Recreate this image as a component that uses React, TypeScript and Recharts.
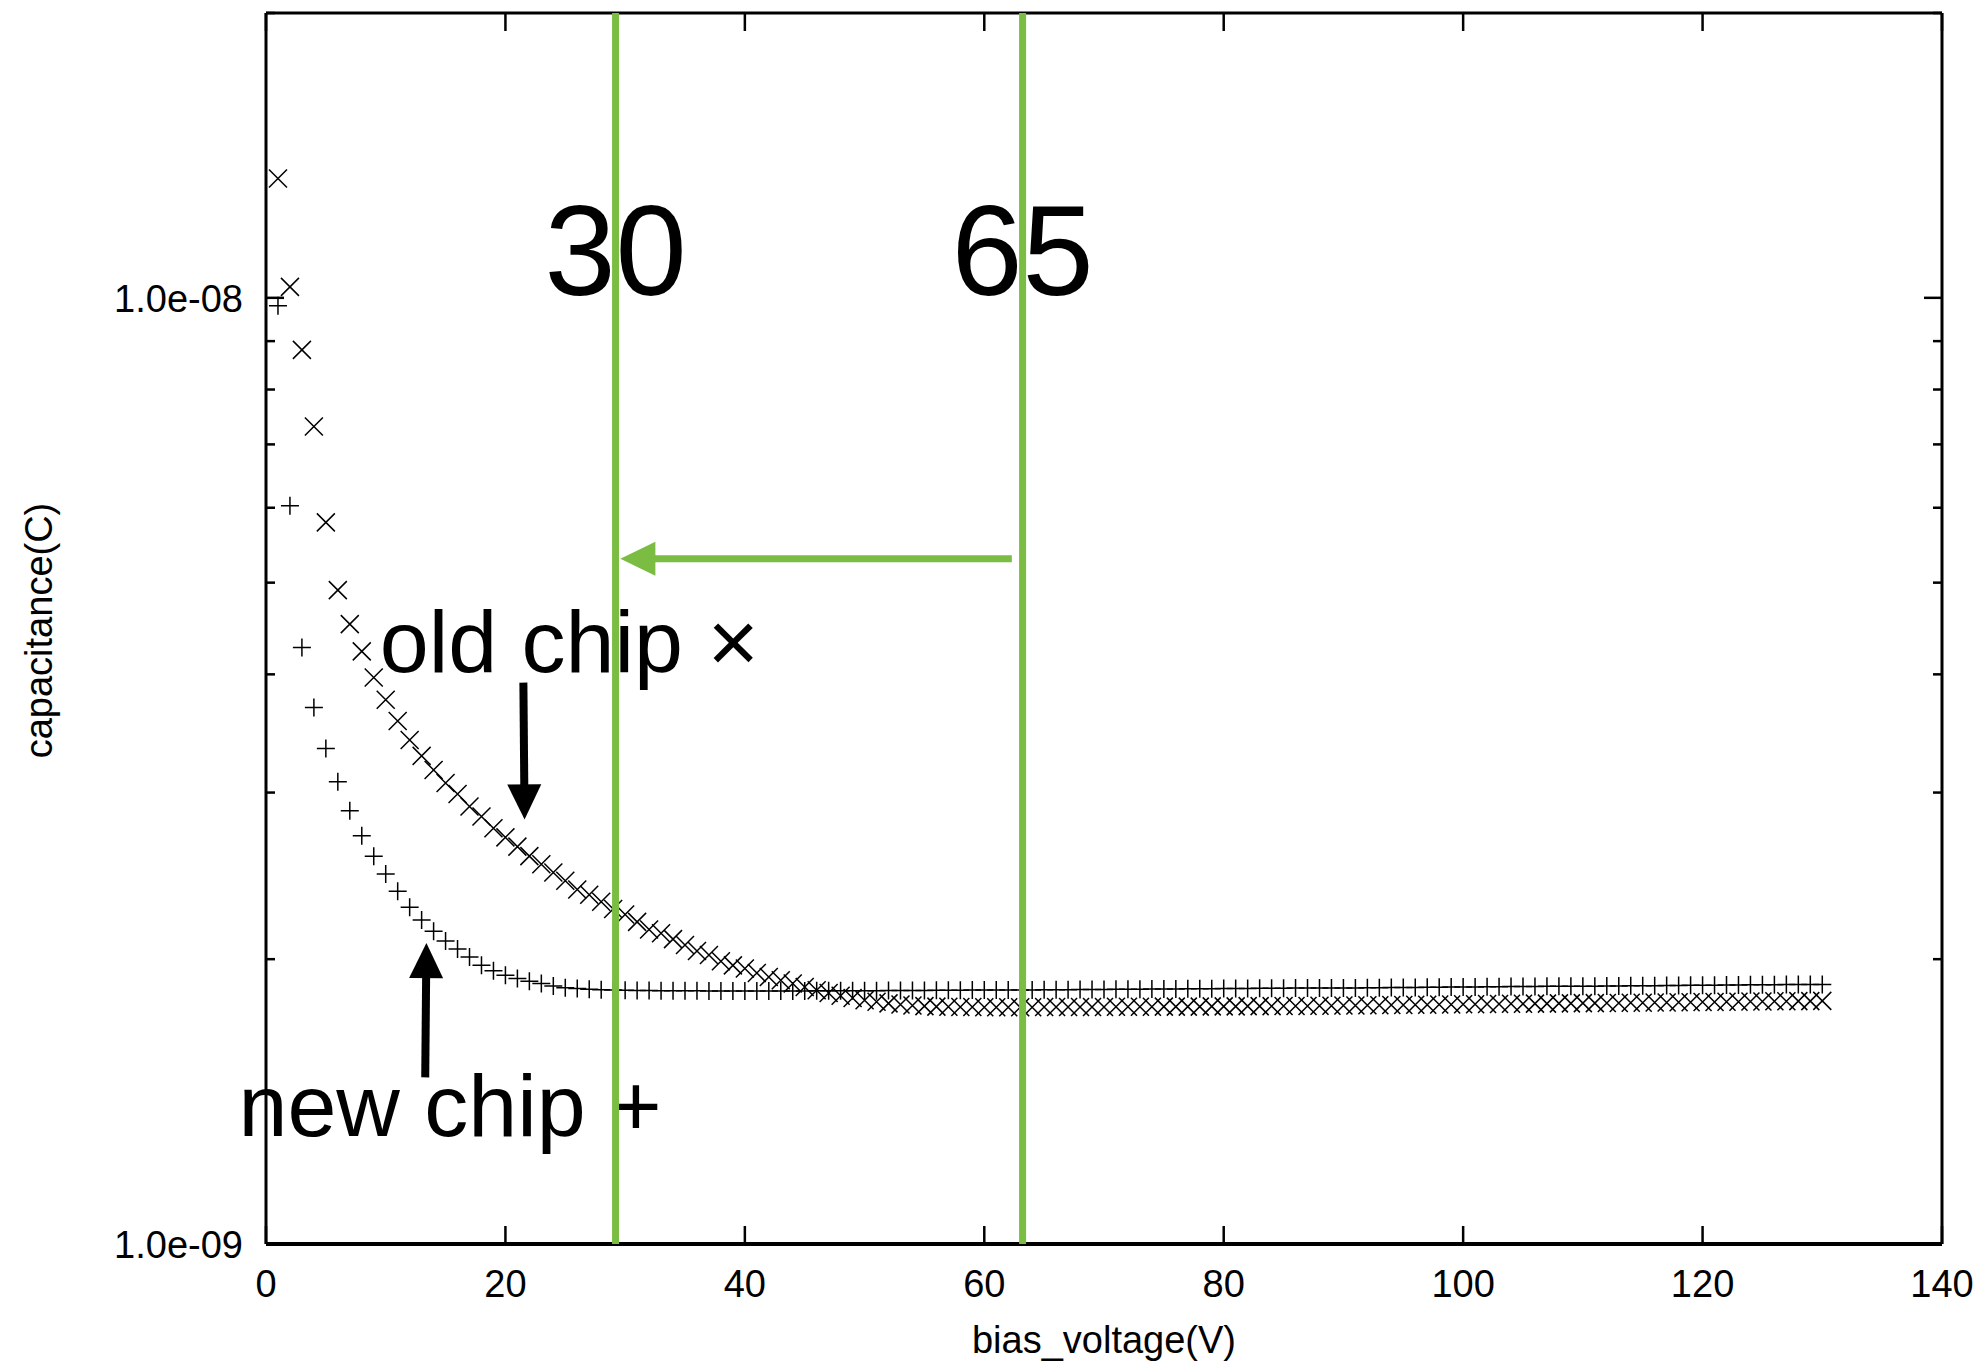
import React from "react"
import { ScatterChart, Scatter, XAxis, YAxis, ReferenceLine, ReferenceDot } from "recharts"

// bias voltage (V) of each measurement
const voltages = [
  1, 2, 3, 4, 5, 6, 7, 8, 9, 10, 11, 12, 13, 14, 15, 16, 17, 18, 19, 20,
  21, 22, 23, 24, 25, 26, 27, 28, 29, 30, 31, 32, 33, 34, 35, 36, 37, 38, 39, 40,
  41, 42, 43, 44, 45, 46, 47, 48, 49, 50, 51, 52, 53, 54, 55, 56, 57, 58, 59, 60,
  61, 62, 63, 64, 65, 66, 67, 68, 69, 70, 71, 72, 73, 74, 75, 76, 77, 78, 79, 80,
  81, 82, 83, 84, 85, 86, 87, 88, 89, 90, 91, 92, 93, 94, 95, 96, 97, 98, 99, 100,
  101, 102, 103, 104, 105, 106, 107, 108, 109, 110, 111, 112, 113, 114, 115, 116, 117, 118, 119, 120,
  121, 122, 123, 124, 125, 126, 127, 128, 129, 130,
]

// capacitance in units of 1e-9
const oldChipNF = [
  13.37, 10.27, 8.81, 7.31, 5.79, 4.91, 4.52, 4.23, 3.97, 3.76,
  3.57, 3.41, 3.28, 3.17, 3.07, 2.99, 2.9, 2.83, 2.75, 2.69,
  2.63, 2.57, 2.52, 2.47, 2.42, 2.37, 2.34, 2.3, 2.26, 2.23,
  2.19, 2.15, 2.13, 2.1, 2.07, 2.04, 2.02, 1.99, 1.97, 1.955,
  1.934, 1.915, 1.9, 1.885, 1.869, 1.854, 1.842, 1.83, 1.82, 1.81,
  1.803, 1.796, 1.791, 1.787, 1.784, 1.782, 1.781, 1.78, 1.78, 1.779,
  1.779, 1.779, 1.779, 1.779, 1.78, 1.78, 1.78, 1.78, 1.78, 1.78,
  1.781, 1.781, 1.781, 1.781, 1.782, 1.782, 1.782, 1.782, 1.783, 1.783,
  1.783, 1.784, 1.784, 1.784, 1.785, 1.785, 1.785, 1.786, 1.786, 1.787,
  1.787, 1.788, 1.788, 1.789, 1.789, 1.79, 1.79, 1.791, 1.791, 1.792,
  1.792, 1.793, 1.793, 1.794, 1.794, 1.795, 1.795, 1.796, 1.796, 1.797,
  1.797, 1.798, 1.798, 1.799, 1.799, 1.8, 1.8, 1.801, 1.801, 1.802,
  1.802, 1.803, 1.803, 1.804, 1.804, 1.805, 1.805, 1.806, 1.806, 1.807,
]

const newChipNF = [
  9.81, 6.03, 4.27, 3.69, 3.34, 3.08, 2.87, 2.7, 2.57, 2.46,
  2.36, 2.27, 2.2, 2.14, 2.09, 2.05, 2.01, 1.971, 1.944, 1.923,
  1.908, 1.895, 1.885, 1.874, 1.866, 1.862, 1.859, 1.857, 1.855, 1.854,
  1.853, 1.853, 1.852, 1.852, 1.852, 1.852, 1.851, 1.851, 1.851, 1.851,
  1.851, 1.851, 1.851, 1.851, 1.851, 1.852, 1.852, 1.852, 1.852, 1.852,
  1.852, 1.853, 1.853, 1.853, 1.853, 1.854, 1.854, 1.854, 1.855, 1.855,
  1.855, 1.856, 1.856, 1.856, 1.857, 1.857, 1.857, 1.858, 1.858, 1.858,
  1.859, 1.859, 1.859, 1.86, 1.86, 1.86, 1.861, 1.861, 1.861, 1.862,
  1.862, 1.862, 1.863, 1.863, 1.863, 1.864, 1.864, 1.864, 1.865, 1.865,
  1.865, 1.866, 1.866, 1.867, 1.867, 1.867, 1.868, 1.868, 1.869, 1.869,
  1.869, 1.87, 1.87, 1.871, 1.871, 1.871, 1.872, 1.872, 1.873, 1.873,
  1.873, 1.874, 1.874, 1.875, 1.875, 1.875, 1.876, 1.876, 1.877, 1.877,
  1.877, 1.878, 1.878, 1.879, 1.879, 1.879, 1.88, 1.88, 1.881, 1.881,
]

const xTicks = [0, 20, 40, 60, 80, 100, 120, 140]
const yMajorTicks = [1e-9, 1e-8]
const yMajorLabels = ["1.0e-09", "1.0e-08"]
const yMinorTicks = [2e-9, 3e-9, 4e-9, 5e-9, 6e-9, 7e-9, 8e-9, 9e-9, 2e-8]

// green cut lines and their numbers
const cutVoltages = [29.2, 63.2]
const cutLabels = ["30", "65"]
const cutLabelLevel = 1.007e-8

// green shift arrow (from, to)
const shiftArrow = [{ x: 62.3, y: 5.3e-9 }, { x: 29.6, y: 5.3e-9 }]
// black pointer arrows (tail, tip)
const oldArrow = [{ x: 21.5, y: 3.92e-9 }, { x: 21.6, y: 2.81e-9 }]
const newArrow = [{ x: 13.3, y: 1.5e-9 }, { x: 13.4, y: 2.08e-9 }]

// notes: text, start x, baseline y
const notes = [
  { text: "old chip \u00d7", x: 9.5, y: 4.02e-9 },
  { text: "new chip +", x: -2.3, y: 1.3e-9 },
]

const oldData = voltages.map((v, i) => ({ x: v, y: oldChipNF[i] * 1e-9 }))
const newData = voltages.map((v, i) => ({ x: v, y: newChipNF[i] * 1e-9 }))

const FONT = "'Liberation Sans', Arial, Helvetica, sans-serif"
const GREEN = "#7abd42"
const yTicksAll = [...yMajorTicks, ...yMinorTicks].sort((a, b) => a - b)

const XMark = (p: any) => (
  <path d={`M${p.cx - 9},${p.cy - 9}L${p.cx + 9},${p.cy + 9}M${p.cx + 9},${p.cy - 9}L${p.cx - 9},${p.cy + 9}`} stroke="#000" strokeWidth={1.5} fill="none" />
)
const PlusMark = (p: any) => (
  <path d={`M${p.cx - 9},${p.cy}L${p.cx + 9},${p.cy}M${p.cx},${p.cy - 9}L${p.cx},${p.cy + 9}`} stroke="#000" strokeWidth={1.5} fill="none" />
)
const NoMark = () => <g />

const BottomTick = ({ x, y, payload }: any) => (
  <g>
    <line x1={x} y1={y} x2={x} y2={y - 18} stroke="#000" strokeWidth={2.5} />
    <text x={x} y={y + 53} textAnchor="middle" fontSize={38} fontFamily={FONT} fill="#000">{payload.value}</text>
  </g>
)
const TopTick = ({ x, y }: any) => <line x1={x} y1={y} x2={x} y2={y + 18} stroke="#000" strokeWidth={2.5} />

const LeftTick = ({ x, y, payload }: any) => {
  const i = yMajorTicks.indexOf(payload.value)
  return (
    <g>
      <line x1={x} y1={y} x2={x + (i >= 0 ? 18 : 9)} y2={y} stroke="#000" strokeWidth={2.5} />
      {i >= 0 && (
        <text x={x - 23} y={y} dy="0.36em" textAnchor="end" fontSize={38} fontFamily={FONT} fill="#000">{yMajorLabels[i]}</text>
      )}
    </g>
  )
}
const RightTick = ({ x, y, payload }: any) => {
  const major = yMajorTicks.includes(payload.value)
  return <line x1={x} y1={y} x2={x - (major ? 18 : 9)} y2={y} stroke="#000" strokeWidth={2.5} />
}

const XTitle = ({ viewBox }: any) => (
  <text x={viewBox.x + viewBox.width / 2} y={viewBox.y + 109} textAnchor="middle" fontSize={38} fontFamily={FONT} fill="#000">bias_voltage(V)</text>
)
const YTitle = ({ viewBox }: any) => {
  const cx = viewBox.x + 44
  const cy = viewBox.y + viewBox.height / 2 + 2
  return (
    <text x={cx} y={cy} transform={`rotate(-90 ${cx} ${cy})`} textAnchor="middle" fontSize={38} fontFamily={FONT} fill="#000">capacitance(C)</text>
  )
}

const arrowShape = (color: string, width: number) => (p: any) => {
  const { x1, y1, x2, y2 } = p
  const dx = x2 - x1
  const dy = y2 - y1
  const len = Math.hypot(dx, dy) || 1
  const ux = dx / len
  const uy = dy / len
  const hl = 35
  const hw = 17
  const bx = x2 - ux * hl
  const by = y2 - uy * hl
  return (
    <g>
      <line x1={x1} y1={y1} x2={bx + ux * 2} y2={by + uy * 2} stroke={color} strokeWidth={width} />
      <polygon points={`${x2},${y2} ${bx - uy * hw},${by + ux * hw} ${bx + uy * hw},${by - ux * hw}`} fill={color} />
    </g>
  )
}

const noteShape = (text: string, size: number, anchor: string) => (p: any) => (
  <text x={p.cx} y={p.cy} textAnchor={anchor} fontSize={size} fontFamily={FONT} fill="#000">{text}</text>
)

export default function App() {
  return (
    <ScatterChart width={1980} height={1356} margin={{ top: 4, right: 45, bottom: 0, left: 0 }}>
      <XAxis xAxisId="b" type="number" dataKey="x" domain={[0, 140]} ticks={xTicks} interval={0}
        orientation="bottom" height={120} tickSize={0} tickMargin={0} tickLine={false}
        axisLine={{ stroke: "#000", strokeWidth: 4 }} tick={<BottomTick />} label={<XTitle />} />
      <XAxis xAxisId="t" type="number" dataKey="x" domain={[0, 140]} ticks={xTicks} interval={0}
        orientation="top" height={1} tickSize={0} tickMargin={0} tickLine={false}
        axisLine={{ stroke: "#000", strokeWidth: 3 }} tick={<TopTick />} />
      <YAxis yAxisId="l" type="number" dataKey="y" scale="log" domain={[1e-9, 2e-8]} ticks={yTicksAll} interval={0}
        orientation="left" width={258} tickSize={0} tickMargin={0} tickLine={false}
        axisLine={{ stroke: "#000", strokeWidth: 3 }} tick={<LeftTick />} label={<YTitle />} />
      <YAxis yAxisId="r" type="number" dataKey="y" scale="log" domain={[1e-9, 2e-8]} ticks={yTicksAll} interval={0}
        orientation="right" width={1} tickSize={0} tickMargin={0} tickLine={false}
        axisLine={{ stroke: "#000", strokeWidth: 3 }} tick={<RightTick />} />

      {/* bound to the mirror axes only so they get a scale and draw their ticks */}
      <Scatter name="mirror" data={oldData} xAxisId="t" yAxisId="r" shape={NoMark} isAnimationActive={false} legendType="none" />
      <Scatter name="old chip" data={oldData} xAxisId="b" yAxisId="l" shape={XMark} isAnimationActive={false} />
      <Scatter name="new chip" data={newData} xAxisId="b" yAxisId="l" shape={PlusMark} isAnimationActive={false} />

      {notes.map((n) => (
        <ReferenceDot key={n.text} xAxisId="b" yAxisId="l" x={n.x} y={n.y} r={1} ifOverflow="visible"
          shape={noteShape(n.text, 88, "start")} />
      ))}
      {cutVoltages.map((v, i) => (
        <ReferenceDot key={"lbl" + i} xAxisId="b" yAxisId="l" x={v} y={cutLabelLevel} r={1} ifOverflow="visible"
          shape={noteShape(cutLabels[i], 128, "middle")} />
      ))}

      <ReferenceLine xAxisId="b" yAxisId="l" segment={oldArrow} ifOverflow="visible" shape={arrowShape("#000", 8)} />
      <ReferenceLine xAxisId="b" yAxisId="l" segment={newArrow} ifOverflow="visible" shape={arrowShape("#000", 8)} />
      {cutVoltages.map((v) => (
        <ReferenceLine key={v} xAxisId="b" yAxisId="l" x={v} stroke={GREEN} strokeWidth={7} zIndex={900} />
      ))}
      <ReferenceLine xAxisId="b" yAxisId="l" segment={shiftArrow} ifOverflow="visible" shape={arrowShape(GREEN, 7)} zIndex={900} />
    </ScatterChart>
  )
}
